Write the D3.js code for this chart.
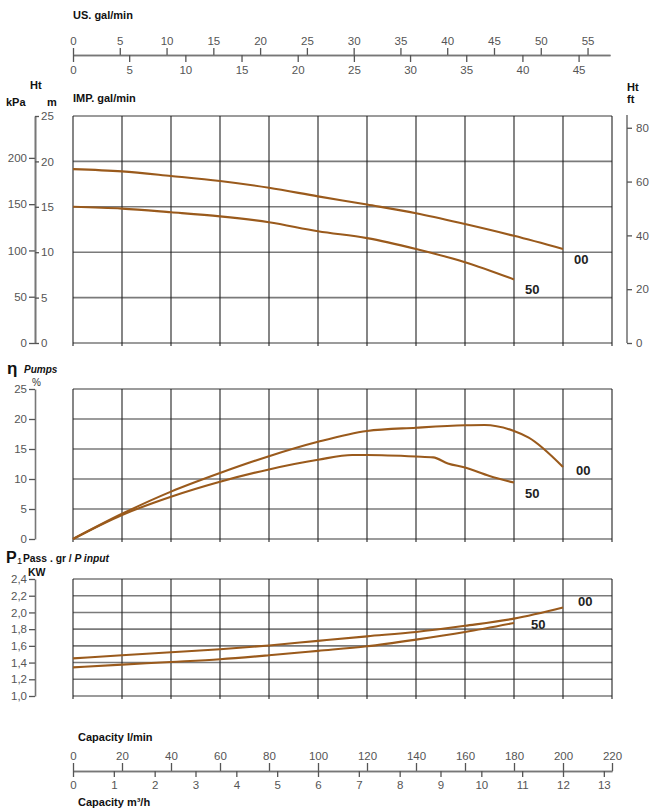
<!DOCTYPE html>
<html><head><meta charset="utf-8">
<script src="https://cdn.jsdelivr.net/npm/d3@7"></script>
<style>
html,body{margin:0;padding:0;background:#fff;}
svg text{font-family:"Liberation Sans",Arial,sans-serif;}
</style></head>
<body>
<svg id="c" width="653" height="812"></svg>
<script>
// ---------- data ----------
const flowTicks = [0,20,40,60,80,100,120,140,160,180,200,220];   // l/min
const m3hTicks = [0,1,2,3,4,5,6,7,8,9,10,11,12,13];
const usTicks = [0,5,10,15,20,25,30,35,40,45,50,55];
const impTicks = [0,5,10,15,20,25,30,35,40,45];
const headTicks = [0,5,10,15,20,25];
const kpaTicks = [0,50,100,150,200];
const ftTicks = [0,20,40,60,80];
const effTicks = [0,5,10,15,20,25];
const powerTicks = [1.0,1.2,1.4,1.6,1.8,2.0,2.2,2.4];

const flowHead00 = [0,20,40,60,80,100,120,140,160,180,200];
const head00 = [19.15,18.9,18.4,17.85,17.1,16.15,15.25,14.3,13.1,11.8,10.35];
const flowHead50 = [0,20,40,60,80,100,120,140,160,180];
const head50 = [15.0,14.8,14.4,13.95,13.3,12.3,11.55,10.35,8.9,7.0];

const flowEff00 = [0,20,40,60,80,100,120,140,160,168,180,186,200];
const eff00 = [0,4.2,7.9,11.0,13.8,16.2,18.0,18.55,18.95,19.0,18.0,16.9,12.0];
const flowEff50 = [0,20,40,60,80,100,114,120,140,147,153,160,170,180];
const eff50 = [0,4.0,7.05,9.55,11.6,13.2,14.0,14.0,13.75,13.6,12.6,11.9,10.5,9.4];

const flowPow00 = [0,20,40,60,80,100,120,140,160,180,200];
const power00 = [1.45,1.487,1.523,1.56,1.605,1.66,1.714,1.766,1.84,1.926,2.06];
const flowPow50 = [0,20,40,60,80,100,120,140,160,180];
const power50 = [1.343,1.376,1.407,1.44,1.487,1.54,1.595,1.675,1.766,1.874];

const seriesNames = ["00","50"];

// ---------- layout ----------
const svg = d3.select("#c");
const X0 = 73, X1 = 612;
const x = d3.scaleLinear().domain([0,220]).range([X0,X1]);
const xM3 = d3.scaleLinear().domain([0,220*0.06]).range([X0,X1]);
const xUS = d3.scaleLinear().domain([0,57.4]).range([X0,610]);
const xIMP = d3.scaleLinear().domain([0,57.4/1.20095]).range([X0,610]);

const yH = d3.scaleLinear().domain([0,25]).range([343,116]);
const yK = d3.scaleLinear().domain([0,25*9.81]).range([343,116]);
const yFt = d3.scaleLinear().domain([0,84]).range([343,117]);
const yE = d3.scaleLinear().domain([0,25]).range([539,389]);
const yP = d3.scaleLinear().domain([1.0,2.4]).range([696,579]);

const CURVE = "#9a5a1c";
const TXT = "#555";
const fmtComma = v => d3.format(".1f")(v).replace(".", ",");

function styleAxis(g, color){
  g.selectAll(".domain").attr("stroke", color||"#777").attr("stroke-width",1.6);
  g.selectAll(".tick line").attr("stroke", color||"#555").attr("stroke-width",1.3);
  g.selectAll(".tick text").attr("fill",TXT).style("font-size","11.5px")
   .style("font-family","'Liberation Sans',Arial,sans-serif");
}

function grid(yScale, yTicks){
  const g = svg.append("g");
  const [yb, yt] = yScale.range();
  g.selectAll("line.h").data(yTicks).join("line")
    .attr("x1",X0).attr("x2",X1)
    .attr("y1",d=>yScale(d)).attr("y2",d=>yScale(d))
    .attr("stroke","#7a7a7a").attr("stroke-width",1.6);
  g.selectAll("line.v").data(flowTicks).join("line")
    .attr("x1",d=>x(d)).attr("x2",d=>x(d))
    .attr("y1",yt).attr("y2",yb+3)
    .attr("stroke","#222").attr("stroke-width",1.1);
}

function curve(xs, ys, yScale){
  const pts = xs.map((v,i)=>[x(v), yScale(ys[i])]);
  svg.append("path").attr("d", d3.line().curve(d3.curveMonotoneX)(pts))
    .attr("fill","none").attr("stroke",CURVE).attr("stroke-width",2.1);
}

function label(t, px, py, opts){
  opts = opts||{};
  return svg.append("text").attr("x",px).attr("y",py).text(t)
    .attr("fill",opts.fill||"#111")
    .style("font-size",(opts.size||11)+"px")
    .style("font-weight",opts.weight||"bold")
    .style("font-style",opts.style||"normal")
    .attr("text-anchor",opts.anchor||"start");
}

// ---------- top axes ----------
label("US. gal/min", 73, 19, {size:11});
const gUS = svg.append("g").attr("transform","translate(0,55)")
  .call(d3.axisTop(xUS).tickValues(usTicks).tickSize(7).tickPadding(3).tickSizeOuter(0));
styleAxis(gUS);
const gIMP = svg.append("g").attr("transform","translate(0,55)")
  .call(d3.axisBottom(xIMP).tickValues(impTicks).tickSize(7).tickPadding(4).tickSizeOuter(0));
styleAxis(gIMP);
label("IMP. gal/min", 73, 102, {size:11});

// ---------- head panel ----------
label("Ht", 30, 89, {size:11});
label("kPa", 6, 106, {size:11});
label("m", 47, 106, {size:11});
label("Ht", 627, 91, {size:11});
label("ft", 627, 103, {size:11});
grid(yH, headTicks);
const gK = svg.append("g").attr("transform","translate(35,0)")
  .call(d3.axisLeft(yK).tickValues(kpaTicks).tickSize(6).tickPadding(2).tickSizeOuter(0));
styleAxis(gK);
const gM = svg.append("g").attr("transform","translate(35,0)")
  .call(d3.axisRight(yH).tickValues(headTicks).tickSize(4).tickPadding(2).tickSizeOuter(0));
styleAxis(gM);
const gFt = svg.append("g").attr("transform","translate(627,0)")
  .call(d3.axisRight(yFt).tickValues(ftTicks).tickSize(5).tickPadding(4).tickSizeOuter(0));
styleAxis(gFt);
gFt.select(".domain").attr("d","M0,343V115");
curve(flowHead00, head00, yH);
curve(flowHead50, head50, yH);
label(seriesNames[0], x(200)+11, yH(head00[head00.length-1])+15, {size:13, fill:"#222"});
label(seriesNames[1], x(180)+11, yH(head50[head50.length-1])+15, {size:13, fill:"#222"});

// ---------- efficiency panel ----------
label("η", 7, 374, {size:17});
label("Pumps", 24, 373, {size:10, style:"italic"});
label("%", 32, 386, {size:10, weight:"normal", fill:"#333"});
grid(yE, effTicks);
const gE = svg.append("g").attr("transform","translate(35,0)")
  .call(d3.axisLeft(yE).tickValues(effTicks).tickSize(6).tickPadding(2).tickSizeOuter(0));
styleAxis(gE);
curve(flowEff00, eff00, yE);
curve(flowEff50, eff50, yE);
label(seriesNames[0], x(200)+13, yE(eff00[eff00.length-1])+8, {size:13, fill:"#222"});
label(seriesNames[1], x(180)+11, yE(eff50[eff50.length-1])+15, {size:13, fill:"#222"});

// ---------- power panel ----------
label("P", 6, 563, {size:16});
label("1", 17, 564, {size:9.5, weight:"normal"});
const pl = svg.append("text").attr("x",23).attr("y",562)
  .style("font-size","10.3px").style("font-weight","bold").attr("fill","#111");
pl.append("tspan").text("Pass . gr / ");
pl.append("tspan").text("P input").style("font-style","italic");
label("KW", 28, 576, {size:10.5});
grid(yP, powerTicks);
const gP = svg.append("g").attr("transform","translate(35,0)")
  .call(d3.axisLeft(yP).tickValues(powerTicks).tickSize(6).tickPadding(2).tickSizeOuter(0).tickFormat(fmtComma));
styleAxis(gP);
curve(flowPow00, power00, yP);
curve(flowPow50, power50, yP);
label(seriesNames[0], x(200)+15, yP(power00[power00.length-1])-1, {size:13, fill:"#222"});
label(seriesNames[1], x(180)+17, yP(power50[power50.length-1])+6, {size:13, fill:"#222"});

// ---------- bottom axes ----------
label("Capacity l/min", 78, 741, {size:11});
const gL = svg.append("g").attr("transform","translate(0,771)")
  .call(d3.axisTop(x).tickValues(flowTicks).tickSize(8).tickPadding(3).tickSizeOuter(0));
styleAxis(gL);
const gM3 = svg.append("g").attr("transform","translate(0,771)")
  .call(d3.axisBottom(xM3).tickValues(m3hTicks).tickSize(6).tickPadding(4).tickSizeOuter(0));
styleAxis(gM3);
const cap = svg.append("text").attr("x",78).attr("y",806)
  .style("font-size","11px").style("font-weight","bold").attr("fill","#111");
cap.append("tspan").text("Capacity m³/h");
</script>
</body></html>
